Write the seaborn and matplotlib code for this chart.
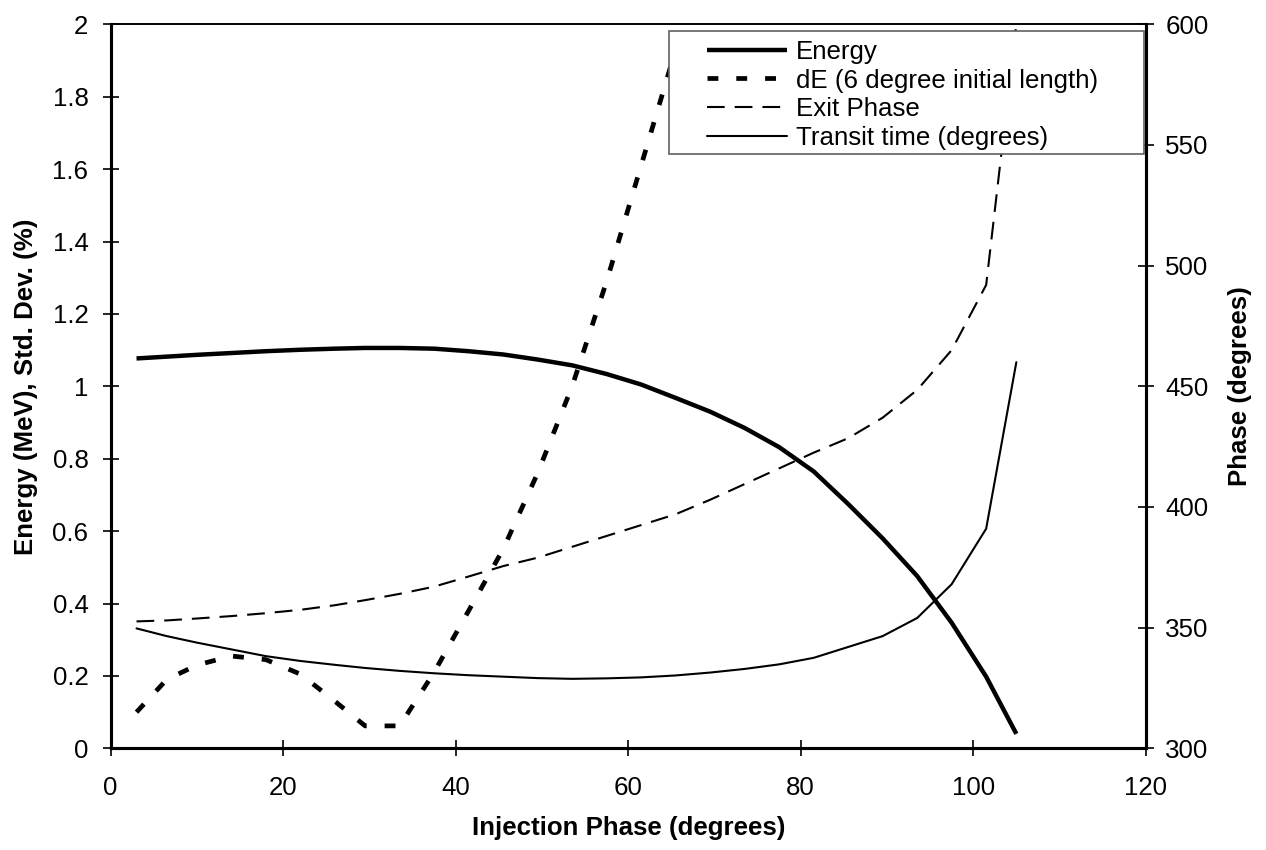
import matplotlib
matplotlib.use("Agg")
import matplotlib.pyplot as plt
from matplotlib.patches import Rectangle
import seaborn as sns

# ---- data ----
inj_phase = [3, 6.5, 10, 14, 18, 22, 26, 29.5, 33.5, 37.5, 41.5, 45.5, 49.5, 53.5,
             57.5, 61.5, 65.5, 69.5, 73.5, 77.5, 81.5, 85.5, 89.5, 93.5, 97.5, 101.5, 105]
energy = [1.077, 1.082, 1.087, 1.092, 1.097, 1.101, 1.104, 1.106, 1.106, 1.104, 1.097,
          1.088, 1.074, 1.058, 1.034, 1.005, 0.968, 0.93, 0.885, 0.832, 0.765, 0.675,
          0.58, 0.476, 0.347, 0.198, 0.04]
de_phase = [3, 6.5, 10, 14, 18, 22, 26, 29.5, 33.5, 37.5, 41.5, 45.5, 49.5, 53.5,
            57.5, 61.5, 65.5, 69.5]
de_6deg = [0.10, 0.19, 0.23, 0.255, 0.245, 0.205, 0.13, 0.062, 0.062, 0.21, 0.38, 0.55,
           0.76, 1.00, 1.29, 1.61, 1.93, 2.25]
exit_phase = [352.6, 353.0, 353.8, 354.8, 356.0, 357.4, 359.3, 361.4, 364, 367, 371.2,
              375.5, 379, 383.5, 388, 392.5, 397, 403, 409.5, 416, 422.5, 428.5,
              437, 448.5, 465, 492, 600]
transit = [349.7, 346.5, 343.8, 341, 338.2, 336.2, 334.6, 333.3, 332.1, 331.1, 330.3,
           329.7, 329.1, 328.8, 329, 329.4, 330.2, 331.4, 332.9, 334.8, 337.5, 342.0,
           346.5, 354, 368, 391, 460]

left_ticks = [0, 0.2, 0.4, 0.6, 0.8, 1, 1.2, 1.4, 1.6, 1.8, 2]
left_tick_labels = ["0", "0.2", "0.4", "0.6", "0.8", "1", "1.2", "1.4", "1.6", "1.8", "2"]
right_ticks = [300, 350, 400, 450, 500, 550, 600]
x_ticks = [0, 20, 40, 60, 80, 100, 120]

sns.set_style("white")
plt.rcParams["font.family"] = ["Liberation Sans", "DejaVu Sans"]

fig = plt.figure(figsize=(12.66, 8.5), dpi=100)
ax = fig.add_axes([0.0874, 0.1196, 0.905 - 0.0874, 0.9714 - 0.1196])
ax2 = ax.twinx()

sns.lineplot(x=inj_phase, y=energy, ax=ax, color="black", linewidth=3.2,
             label="Energy", legend=False)
sns.lineplot(x=de_phase, y=de_6deg, ax=ax, color="black", linewidth=3.4,
             linestyle=(0, (2.3, 3.8)), label="dE (6 degree initial length)", legend=False)
sns.lineplot(x=inj_phase, y=exit_phase, ax=ax2, color="black", linewidth=1.5,
             linestyle=(0, (8.5, 4.8)), label="Exit Phase", legend=False)
sns.lineplot(x=inj_phase, y=transit, ax=ax2, color="black", linewidth=1.5,
             label="Transit time (degrees)", legend=False)

for line in ax.get_lines():
    line.set_solid_capstyle("butt")
    line.set_dash_capstyle("butt")

ax.set_xlim(0, 120)
ax.set_ylim(0, 2)
ax2.set_ylim(300, 600)
ax.set_xticks(x_ticks)
ax.set_xticklabels([str(t) for t in x_ticks])
ax.set_yticks(left_ticks)
ax.set_yticklabels(left_tick_labels)
ax2.set_yticks(right_ticks)
ax2.set_yticklabels([str(t) for t in right_ticks])

fs = 18.6
ax.tick_params(axis="x", direction="inout", length=12, width=1.2, labelsize=fs,
               colors="black", bottom=True, pad=14)
ax.tick_params(axis="y", direction="inout", length=12, width=1.2, labelsize=fs,
               colors="black", left=True, pad=10)
ax2.tick_params(axis="y", direction="inout", length=12, width=1.2, labelsize=fs,
                colors="black", right=True, pad=8)

ax.set_xlabel("Injection Phase (degrees)", fontsize=fs, fontweight="bold", color="black")
ax.xaxis.set_label_coords(0.5, -0.11)
ax.xaxis.label.set_va("center")
ax.set_ylabel("Energy (MeV), Std. Dev. (%)", fontsize=fs, fontweight="bold", color="black")
ax.yaxis.set_label_coords(-0.0818, 0.5)
ax.yaxis.label.set_va("center")
ax2.set_ylabel("Phase (degrees)", fontsize=fs, fontweight="bold", color="black")
ax2.yaxis.set_label_coords(1.091, 0.5)
ax2.yaxis.label.set_va("center")

for a in (ax, ax2):
    for side in ("left", "bottom", "right"):
        a.spines[side].set_linewidth(2.2)
        a.spines[side].set_color("black")
    a.spines["top"].set_linewidth(1.2)
    a.spines["top"].set_color("black")

# legend box (white, covers the lines beneath it as in the reference)
box = Rectangle((0.5394, 0.8209), 0.9984 - 0.5394, 0.9907 - 0.8209,
                transform=ax2.transAxes, facecolor="white", edgecolor="#606060",
                linewidth=1.2, zorder=9)
ax2.add_patch(box)

handles = ax.get_lines() + ax2.get_lines()
labels = [h.get_label() for h in handles]
leg = ax2.legend(handles, labels, loc="upper left", bbox_to_anchor=(0.5763, 0.9785),
                 fontsize=fs, frameon=False, borderpad=0, handlelength=3.1,
                 handletextpad=0.33, labelspacing=0.18, borderaxespad=0)
for t in leg.get_texts():
    t.set_color("black")
leg.set_zorder(10)

fig.savefig("out.png", dpi=100, facecolor="white")
